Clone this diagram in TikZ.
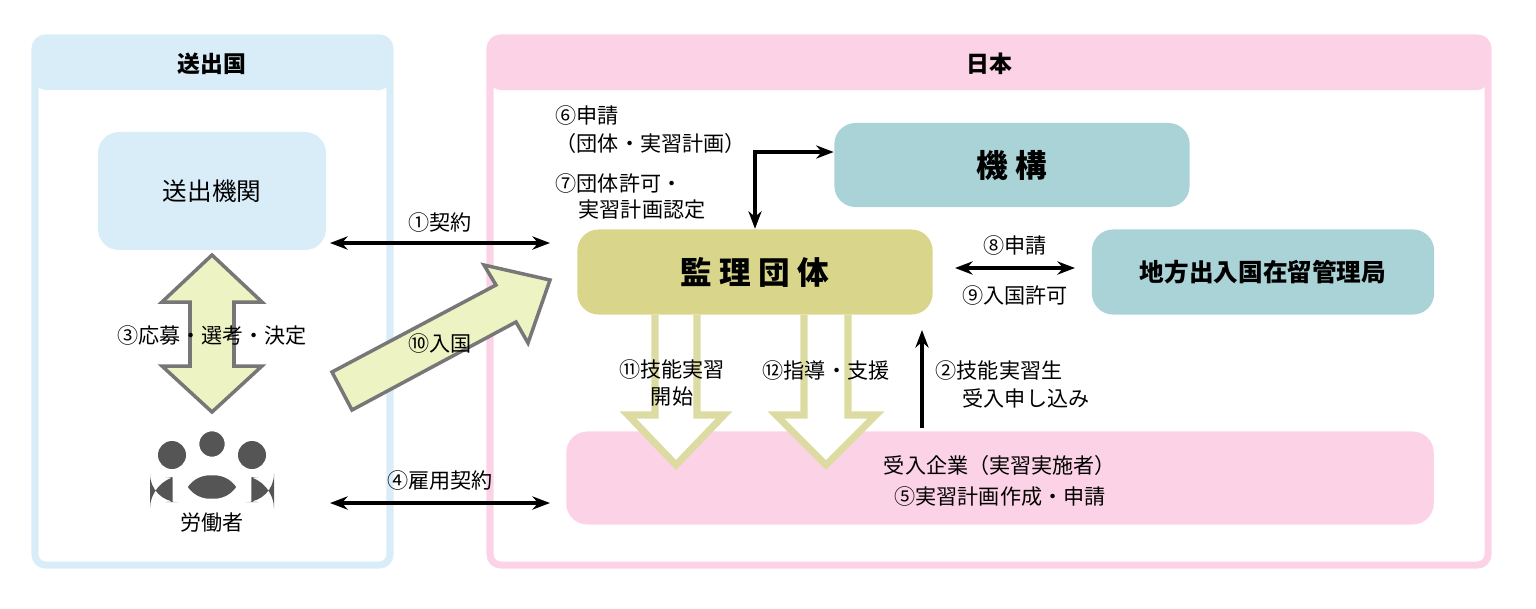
\documentclass[tikz,border=0pt]{standalone}
\usepackage{fontspec}
\setmainfont{Noto Sans CJK JP}
\usetikzlibrary{positioning, arrows.meta}
\definecolor{skyfill}{HTML}{D9EDF8}
\definecolor{pinkfill}{HTML}{FCD3E6}
\definecolor{tealfill}{HTML}{A9D3D6}
\definecolor{olivefill}{HTML}{D9D68B}
\definecolor{pale}{HTML}{EEF3C4}
\definecolor{paleline}{HTML}{DCDBA2}
\definecolor{worker}{HTML}{555555}
\tikzset{
  box/.style={rounded corners=6pt, draw=none, inner sep=0pt},
  lbl/.style={font=\fontsize{6}{7.5}\selectfont, inner sep=0pt},
  dbl/.style={{Stealth[length=5pt]}-{Stealth[length=5pt]}, line width=1.3pt},
  one/.style={-{Stealth[length=5pt]}, line width=1.3pt},
}
\begin{document}
\begin{tikzpicture}[x=0.01cm, y=-0.01cm]
\useasboundingbox (0,0) rectangle (1536,608);
% panels
\draw[skyfill, line width=2pt, rounded corners=3pt] (35,38) rectangle (390,565);
\fill[skyfill, rounded corners=3pt] (35,38) rectangle (390,90);
\node[lbl, font=\fontsize{6.5}{8}\selectfont\bfseries] (hdsend) at (212,64) {送出国};
\draw[pinkfill, line width=2pt, rounded corners=3pt] (490,38) rectangle (1488,565);
\fill[pinkfill, rounded corners=3pt] (490,38) rectangle (1488,90);
\node[lbl, font=\fontsize{6.5}{8}\selectfont\bfseries] (hdjp) at (989,64) {日本};
% boxes
\node[box, fill=skyfill, minimum width=2.28cm, minimum height=1.18cm, lbl, font=\fontsize{7}{8}\selectfont] (sender) at (212,191) {送出機関};
\node[box, fill=tealfill, minimum width=3.55cm, minimum height=0.84cm, lbl, font=\fontsize{9}{10}\selectfont\bfseries] (kikou) at (1012,165) {機\ 構};
\node[box, fill=olivefill, minimum width=3.55cm, minimum height=0.85cm, lbl, font=\fontsize{9}{10}\selectfont\bfseries] (kanri) at (755,272) {監\ 理\ 団\ 体};
\node[box, fill=tealfill, minimum width=3.42cm, minimum height=0.85cm, lbl, font=\fontsize{7}{8}\selectfont\bfseries] (bureau) at (1263,272) {地方出入国在留管理局};
\node[box, fill=pinkfill, minimum width=8.67cm, minimum height=0.93cm] (company) at (1000,478) {};
\node[lbl] (comp1) at (1000,465) {受入企業（実習実施者）};
\node[lbl] (comp2) at (1000,496) {⑤実習計画作成・申請};
% workers
\fill[worker] (172,455) circle (14) (252,455) circle (14);
\fill[worker, rounded corners=8pt] (150,502) -- (150,480) -- (194,474) -- (194,502) -- cycle;
\fill[worker, rounded corners=8pt] (230,502) -- (230,474) -- (274,480) -- (274,502) -- cycle;
\draw[white, line width=3pt, fill=worker] (212,444) circle (18);
\draw[white, line width=3pt, fill=worker, rounded corners=9pt] (178,504) -- (178,470) -- (246,470) -- (246,504) -- cycle;
\node[lbl] (workers) at (212,523) {労働者};
% big arrows
\draw[worker!80, line width=1pt, fill=pale] (212,255) -- (262,302) -- (234,302) -- (234,366) -- (262,366) -- (212,412) -- (162,366) -- (190,366) -- (190,302) -- (162,302) -- cycle;
\node[lbl] (l3) at (212,335) {③応募・選考・決定};
\draw[worker!80, line width=1pt, fill=pale] (332,372) -- (496,285) -- (484,265) -- (550,280) -- (528,343) -- (516,322) -- (352,410) -- cycle;
\node[lbl] (l10) at (440,343) {⑩入国};
\draw[paleline, line width=2pt, fill=white] (655,315) -- (655,415) -- (628,415) -- (676,465) -- (724,415) -- (697,415) -- (697,315);
\draw[paleline, line width=2pt, fill=white] (804,315) -- (804,415) -- (776,415) -- (826,465) -- (876,415) -- (848,415) -- (848,315);
\node[lbl, align=center] (l11) at (672,383) {⑪技能実習\\開始};
\node[lbl] (l12) at (826,370) {⑫指導・支援};
% arrows
\coordinate (c1a) at (330,243); \coordinate (c1b) at (550,243);
\draw[dbl] (c1a) -- (c1b);
\node[lbl] (l1) at (440,222) {①契約};
\coordinate (c4a) at (330,503); \coordinate (c4b) at (550,503);
\draw[dbl] (c4a) -- (c4b);
\node[lbl] (l4) at (440,480) {④雇用契約};
\coordinate (c6) at (755,152);
\draw[{Stealth[length=5pt]}-{Stealth[length=5pt]}, line width=1.3pt] (kikou.west |- c6) -- (c6) -- (c6 |- kanri.north);
\node[lbl, anchor=west] (l6) at (555,115) {⑥申請};
\node[lbl, anchor=west] (l6b) at (555,143) {（団体・実習計画）};
\node[lbl, anchor=west] (l7) at (555,183) {⑦団体許可・};
\node[lbl, anchor=west] (l7b) at (578,210) {実習計画認定};
\draw[dbl] (955,268) -- (1075,268);
\node[lbl] (l8) at (1015,245) {⑧申請};
\node[lbl] (l9) at (1015,295) {⑨入国許可};
\coordinate (c2a) at (922,428); \coordinate (c2b) at (922,330);
\draw[one] (c2a) -- (c2b);
\node[lbl, anchor=west] (l2) at (935,370) {②技能実習生};
\node[lbl, anchor=west] (l2b) at (962,398) {受入申し込み};
\end{tikzpicture}
\end{document}
